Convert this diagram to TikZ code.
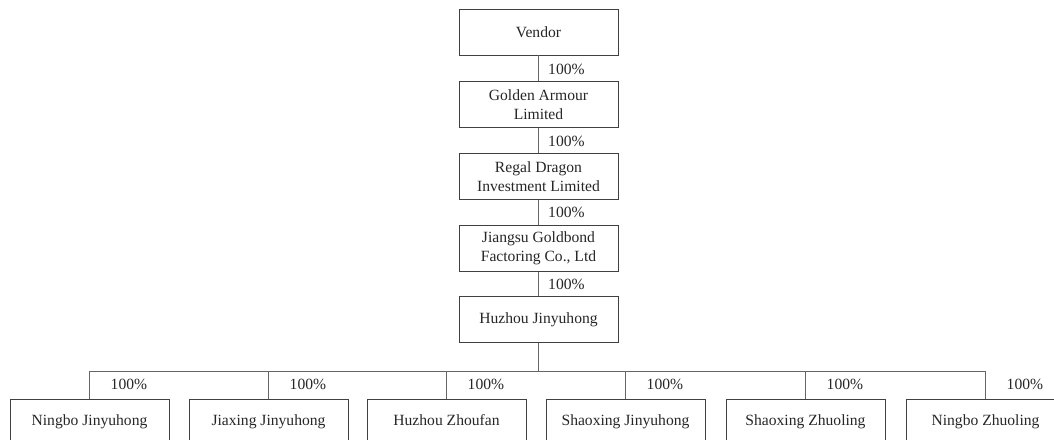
\documentclass[tikz,border=0pt]{standalone}
\usepackage{fontspec}
\setmainfont{Liberation Serif}
\begin{document}
\begin{tikzpicture}[x=1pt,y=-1pt,
  box/.style={draw=black!75, line width=0.9pt, minimum width=159pt, minimum height=46pt, inner sep=0pt, align=center, text=black!85, font=\fontsize{15.6}{18.7}\selectfont},
  leaf/.style={box, text height=10.5pt, text depth=3.5pt},
  link/.style={draw=black!60, line width=1.1pt},
  pct/.style={anchor=west, inner sep=0pt, text=black!85, font=\fontsize{15.6}{18.7}\selectfont}]
\useasboundingbox (0,0) rectangle (1054,439);
\clip (0,0) rectangle (1054,439);
\node[box] (vendor) at (538.5,32) {Vendor};
\node[box] (golden) at (538.5,104.5) {Golden Armour\\Limited};
\node[box] (regal) at (538.5,176.5) {Regal Dragon\\Investment Limited};
\node[box] (jiangsu) at (538.5,248.5) {Jiangsu Goldbond\\Factoring Co., Ltd};
\node[box] (huzhou) at (538.5,319.5) {Huzhou Jinyuhong};
\draw[link] (vendor) -- (golden);
\draw[link] (golden) -- (regal);
\draw[link] (regal) -- (jiangsu);
\draw[link] (jiangsu) -- (huzhou);
\node[pct] (p1) at (548,69) {100\%};
\node[pct] (p2) at (548,141) {100\%};
\node[pct] (p3) at (548,212.5) {100\%};
\node[pct] (p4) at (548,284) {100\%};
\node[leaf] (c1) at (89.5,422) {Ningbo Jinyuhong};
\node[leaf] (c2) at (268.5,422) {Jiaxing Jinyuhong};
\node[leaf] (c3) at (446.5,422) {Huzhou Zhoufan};
\node[leaf] (c4) at (625.5,422) {Shaoxing Jinyuhong};
\node[leaf] (c5) at (805.5,422) {Shaoxing Zhuoling};
\node[leaf] (c6) at (985.5,422) {Ningbo Zhuoling};
\coordinate (j) at (538.5,371.5);
\draw[link] (huzhou.south) -- (j);
\foreach \c in {c1,c2,c3,c4,c5,c6}{
  \draw[link] (j) -| (\c.north);
}
\foreach \c/\n in {c1/q1,c2/q2,c3/q3,c4/q4,c5/q5,c6/q6}{
  \node[pct] (\n) at ([xshift=21pt,yshift=14pt]\c.north) {100\%};
}
\end{tikzpicture}
\end{document}
